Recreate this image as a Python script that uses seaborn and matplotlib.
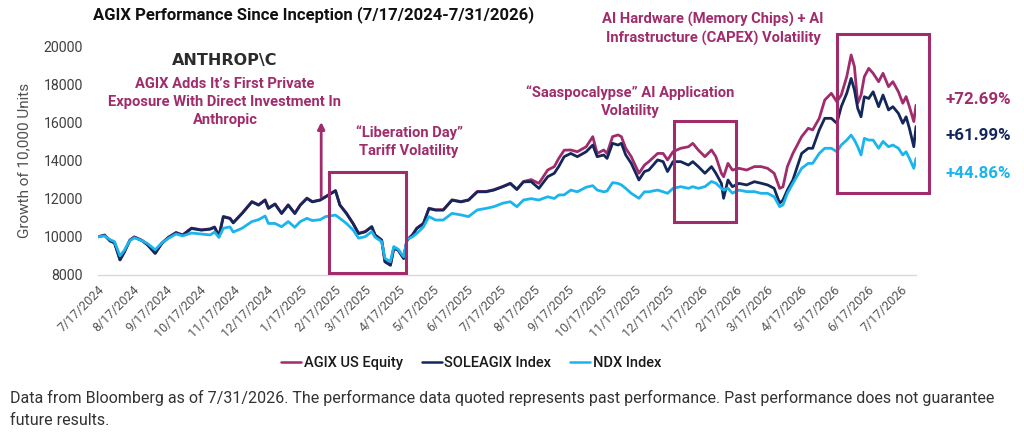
import numpy as np
import pandas as pd
import matplotlib
matplotlib.use("Agg")
import matplotlib.pyplot as plt
import matplotlib.dates as mdates
from matplotlib.patches import Rectangle
from matplotlib.lines import Line2D
import seaborn as sns

# ---------------- data ----------------
start_date = "2024-07-17"
days_since_start = [
    0, 6, 11, 15, 20, 24, 29, 33, 40, 45, 52, 58, 64, 71, 77, 85, 94, 102, 106, 110,
    114, 120, 123, 131, 140, 146, 152, 155, 161, 167, 173, 179, 184, 190, 195, 202, 207, 216, 220, 226,
    232, 237, 243, 249, 252, 258, 261, 266, 269, 273, 278, 281, 286, 290, 296, 301, 307, 314, 322, 330,
    337, 345, 353, 360, 368, 375, 381, 387, 394, 401, 409, 415, 419, 424, 430, 436, 444, 450, 454, 460,
    463, 468, 473, 476, 480, 485, 492, 497, 501, 509, 514, 518, 523, 530, 537, 541, 546, 552, 558, 562,
    567, 569, 573, 577, 583, 590, 597, 603, 609, 615, 620, 623, 627, 632, 640, 646, 650, 656, 661, 667,
    672, 676, 681, 685, 688, 691, 694, 697, 701, 705, 710, 714, 719, 723, 728, 732, 735, 738, 742, 744,
]
agix_us_equity = [
    10000, 10100, 9800, 9700, 8800, 9220, 9830, 10000, 9820, 9600, 9150, 9670, 9980, 10230, 10100, 10460, 10370, 10420, 10520, 10050,
    11070, 10980, 10750, 11240, 11850, 11680, 11940, 11510, 11730, 11240, 11680, 11240, 11680, 12030, 11850, 11940, 12110, 12430, 11680, 11240,
    10710, 10190, 10280, 10540, 10110, 9840, 8710, 8530, 9410, 9320, 8880, 9840, 10110, 10460, 10710, 11500, 11420, 11420, 11940, 11850,
    11940, 12380, 12380, 12470, 12640, 12810, 12500, 12900, 13000, 12800, 13500, 13680, 14100, 14540, 14550, 14460, 14720, 15250, 14370, 14550,
    14370, 15250, 15340, 15250, 14640, 14200, 13330, 13760, 13940, 14370, 14370, 14030, 14460, 14640, 14720, 14900, 14550, 14200, 14550, 14200,
    13330, 13150, 13850, 13500, 13590, 13500, 13680, 13680, 13590, 13330, 12540, 12620, 13680, 14370, 15250, 15690, 15600, 16210, 17170, 17520,
    17080, 17430, 18390, 19530, 18920, 17000, 17430, 18390, 18830, 18570, 18130, 18570, 17870, 18130, 17600, 17000, 17350, 16820, 16040, 16900,
]
soleagix_index = [
    10000, 10080, 9780, 9680, 8790, 9200, 9820, 9980, 9800, 9580, 9130, 9650, 9960, 10210, 10080, 10440, 10350, 10400, 10500, 10030,
    11050, 10960, 10730, 11220, 11830, 11660, 11920, 11490, 11710, 11220, 11660, 11220, 11660, 12010, 11830, 11920, 12090, 12410, 11660, 11220,
    10690, 10170, 10260, 10520, 10090, 9820, 8690, 8510, 9390, 9300, 8860, 9820, 10090, 10440, 10690, 11480, 11400, 11400, 11920, 11830,
    11920, 12360, 12360, 12450, 12620, 12790, 12480, 12880, 12890, 12540, 13150, 13330, 13680, 14200, 14370, 14200, 14460, 14810, 14200, 14290,
    14110, 14900, 14810, 14900, 14290, 13850, 12980, 13420, 13500, 14030, 13940, 13420, 13940, 13940, 13760, 13940, 13680, 13330, 13680, 13330,
    12800, 12020, 12980, 12630, 12800, 12720, 12890, 12810, 12720, 12540, 11760, 11930, 12450, 12980, 14370, 14640, 14640, 15600, 16210, 16210,
    15950, 16820, 17520, 18300, 17700, 16730, 16290, 17340, 17250, 17600, 16820, 17430, 16650, 16820, 16470, 15950, 16290, 15690, 14720, 15780,
]
ndx_index = [
    10000, 10050, 9850, 9750, 9000, 9300, 9800, 9950, 9800, 9650, 9320, 9680, 9920, 10150, 10050, 10200, 10150, 10100, 10250, 9970,
    10450, 10520, 10250, 10450, 10800, 10900, 11090, 10700, 10700, 10530, 10800, 10500, 10800, 10970, 10850, 10900, 11060, 11140, 10970, 10700,
    10360, 9930, 10010, 10270, 9980, 9750, 8870, 8700, 9490, 9350, 8960, 9860, 10000, 10180, 10520, 11060, 10880, 10880, 11230, 11150,
    11060, 11410, 11490, 11580, 11760, 11840, 11580, 11930, 12000, 11930, 12100, 12010, 12190, 12200, 12450, 12360, 12600, 12680, 12450, 12360,
    12400, 12840, 12800, 12720, 12540, 12280, 12020, 12360, 12360, 12450, 12360, 12280, 12540, 12630, 12540, 12630, 12540, 12630, 12900, 12810,
    12540, 12450, 12540, 12290, 12450, 12370, 12370, 12280, 12280, 12100, 11580, 11670, 12280, 12800, 13590, 13850, 13850, 14370, 14640, 14640,
    14460, 14810, 15070, 15330, 15070, 14720, 14290, 15160, 15070, 15070, 14640, 15000, 14720, 14810, 14640, 14290, 14460, 14110, 13590, 14110,
]
series_names = ["AGIX US Equity", "SOLEAGIX Index", "NDX Index"]
total_returns = ["+72.69%", "+61.99%", "+44.86%"]
tick_labels = [
    "7/17/2024", "8/17/2024", "9/17/2024", "10/17/2024", "11/17/2024", "12/17/2024",
    "1/17/2025", "2/17/2025", "3/17/2025", "4/17/2025", "5/17/2025", "6/17/2025",
    "7/17/2025", "8/17/2025", "9/17/2025", "10/17/2025", "11/17/2025", "12/17/2025",
    "1/17/2026", "2/17/2026", "3/17/2026", "4/17/2026", "5/17/2026", "6/17/2026", "7/17/2026",
]
end_date = "2026-07-31"
# highlighted event windows: (start, end, low, high)
event_windows = [
    ("2025-02-12", "2025-04-23", 8100, 13400),
    ("2025-12-23", "2026-02-17", 10780, 16070),
    ("2026-05-20", "2026-08-12", 12300, 20630),
]
anthropic_date = "2025-02-05"
anthropic_arrow = (12090, 16020)

# ---------------- styling ----------------
MAGENTA = "#A02C6C"
NAVY = "#13275B"
SKY = "#1CB4EC"
colors = [MAGENTA, NAVY, SKY]
palette = dict(zip(series_names, colors))

sns.set_theme(style="white")
FONT = ["Roboto", "DejaVu Sans"]
plt.rcParams["font.family"] = FONT

dates = pd.to_datetime(start_date) + pd.to_timedelta(days_since_start, unit="D")
df = pd.DataFrame({
    "Date": np.tile(dates, 3),
    "Value": agix_us_equity + soleagix_index + ndx_index,
    "Series": np.repeat(series_names, len(dates)),
})

fig = plt.figure(figsize=(10.24, 4.40), dpi=100)
ax = fig.add_axes([98 / 1024, 1 - 275 / 440, (916 - 98) / 1024, (275 - 46) / 440])

sns.lineplot(data=df, x="Date", y="Value", hue="Series", palette=palette,
             hue_order=series_names, linewidth=2.0, ax=ax, legend=False)

ax.set_xlim(pd.to_datetime(start_date), pd.to_datetime(end_date))
ax.set_ylim(8000, 20000)
ax.set_yticks(np.arange(8000, 20001, 2000))
ax.set_yticklabels([f"{v:d}" for v in range(8000, 20001, 2000)], color="#404040", fontsize=10.2)
tick_dates = pd.to_datetime(tick_labels, format="%m/%d/%Y")
ax.set_xticks(tick_dates)
ax.set_xticklabels(tick_labels, rotation=45, ha="right", rotation_mode="anchor",
                   color="#555555", fontsize=9)
ax.tick_params(axis="x", length=4, width=0.8, color="#D9D9D9", direction="out", pad=2)
ax.tick_params(axis="y", length=0, pad=11)
for s in ["top", "right", "left"]:
    ax.spines[s].set_visible(False)
ax.spines["bottom"].set_color("#D9D9D9")
ax.spines["bottom"].set_linewidth(1.0)
ax.set_xlabel("")
ax.set_ylabel("Growth of 10,000 Units", color="#505050", fontsize=11, labelpad=9)
ax.grid(False)

# legend
handles = [Line2D([], [], color=c, lw=1.8) for c in colors]
fig.legend(handles, series_names, loc="center", bbox_to_anchor=(471 / 1024, 1 - 363 / 440), ncol=3,
           frameon=False, handlelength=1.4, handletextpad=0.15, columnspacing=1.3,
           prop={"size": 10.5, "weight": "medium", "family": FONT}, labelcolor="#1A1A1A")

# event boxes
for s, e, lo, hi in event_windows:
    x0 = mdates.date2num(pd.to_datetime(s))
    x1 = mdates.date2num(pd.to_datetime(e))
    ax.add_patch(Rectangle((x0, lo), x1 - x0, hi - lo, fill=False, edgecolor=MAGENTA,
                           linewidth=2.2, clip_on=False, zorder=5))

# arrow
ax.annotate("", xy=(pd.to_datetime(anthropic_date), anthropic_arrow[1]),
            xytext=(pd.to_datetime(anthropic_date), anthropic_arrow[0]),
            arrowprops=dict(arrowstyle="-|>", color=MAGENTA, lw=2.0, mutation_scale=10,
                            shrinkA=0, shrinkB=0), annotation_clip=False)

def ftext(x, y, s, **kw):
    fig.text(x / 1024, 1 - y / 440, s, **kw)

ftext(93, 15, "AGIX Performance Since Inception (7/17/2024-7/31/2026)", ha="left", va="center",
      fontsize=12, weight="bold", color="#111111")
ftext(225, 61, "ANTHROP\\C", ha="center", va="center", fontsize=11.5, weight="bold",
      color="#2B2B2B", family=["DejaVu Sans"])
ftext(225, 102, "AGIX Adds It\u2019s First Private\nExposure With Direct Investment In\nAnthropic",
      ha="center", va="center", fontsize=10.6, weight="bold", color=MAGENTA, linespacing=1.38)
ftext(409, 142, "\u201cLiberation Day\u201d\nTariff Volatility", ha="center", va="center",
      fontsize=10.6, weight="bold", color=MAGENTA, linespacing=1.38)
ftext(630, 102, "\u201cSaaspocalypse\u201d AI Application\nVolatility", ha="center", va="center",
      fontsize=10.6, weight="bold", color=MAGENTA, linespacing=1.38)
ftext(713, 29, "AI Hardware (Memory Chips) + AI\nInfrastructure (CAPEX) Volatility", ha="center",
      va="center", fontsize=10.6, weight="bold", color=MAGENTA, linespacing=1.38)

for (lbl, col, yy) in zip(total_returns, colors, [100, 136, 173]):
    ftext(978, yy, lbl, ha="center", va="center", fontsize=12.2, weight="bold", color=col)

ftext(10, 409, "Data from Bloomberg as of 7/31/2026. The performance data quoted represents past "
      "performance. Past performance does not guarantee\nfuture results.", ha="left", va="center",
      fontsize=11.5, color="#333333", linespacing=1.6)

fig.savefig("out.png", dpi=100)
